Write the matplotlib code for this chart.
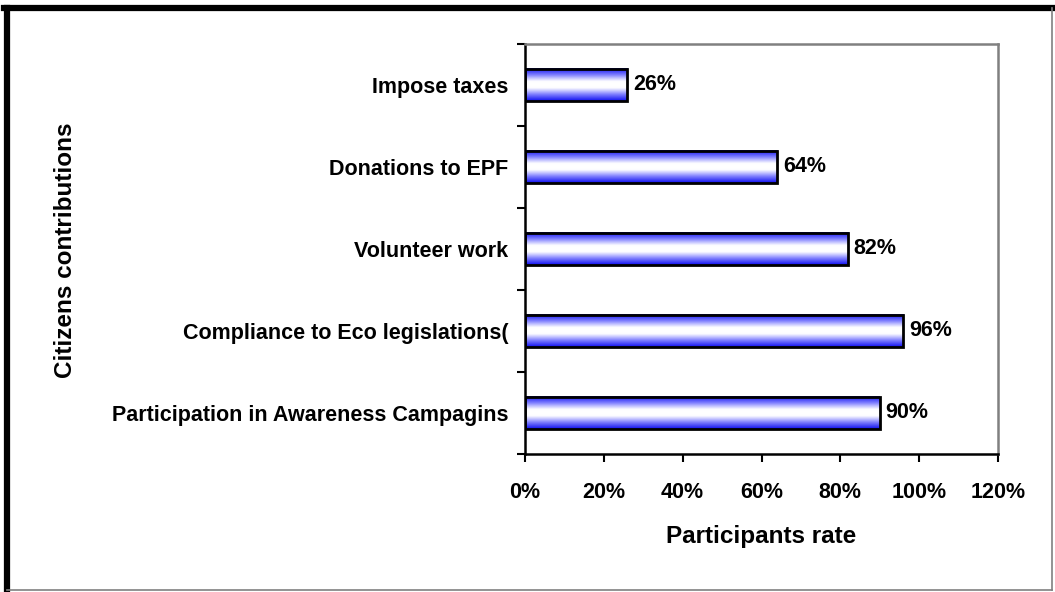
import numpy as np
import matplotlib
matplotlib.use("Agg")
import matplotlib.pyplot as plt
from matplotlib.colors import LinearSegmentedColormap
from matplotlib.patches import Rectangle
from matplotlib.ticker import FixedLocator, PercentFormatter

categories = [
    "Participation in Awareness Campagins",
    "Compliance to Eco legislations(",
    "Volunteer work",
    "Donations to EPF",
    "Impose taxes",
]
rates = [0.90, 0.96, 0.82, 0.64, 0.26]
value_labels = ["90%", "96%", "82%", "64%", "26%"]
x_ticks = [0, 0.2, 0.4, 0.6, 0.8, 1.0, 1.2]

plt.rcParams["font.family"] = ["Liberation Sans", "DejaVu Sans"]
plt.rcParams["font.weight"] = "bold"

fig = plt.figure(figsize=(10.55, 5.92), dpi=100)
ax = fig.add_axes([525 / 1055, 1 - 454 / 592, 473 / 1055, 410 / 592])

# blue -> white -> blue gradient across bar thickness
cmap = LinearSegmentedColormap.from_list(
    "bar", ["#1010f0", "#8080ff", "#ffffff", "#ffffff", "#8080ff", "#1010f0"])
grad = np.linspace(0, 1, 64).reshape(-1, 1)
bar_h = 0.4

for i, (v, lab) in enumerate(zip(rates, value_labels)):
    ax.imshow(grad, cmap=cmap, aspect="auto", interpolation="bicubic",
              extent=(0, v, i - bar_h / 2, i + bar_h / 2), zorder=2)
    ax.add_patch(Rectangle((0, i - bar_h / 2), v, bar_h, fill=False,
                           edgecolor="black", linewidth=2.0, zorder=3))
    ax.text(v + 0.014, i, lab, va="center", ha="left", fontsize=15.5,
            fontweight="bold", zorder=4)

ax.set_xlim(0, 1.2)
ax.set_ylim(-0.5, len(categories) - 0.5)
ax.xaxis.set_major_locator(FixedLocator(x_ticks))
ax.xaxis.set_major_formatter(PercentFormatter(1.0, decimals=0))

ax.set_yticks(range(len(categories)))
ax.set_yticklabels(categories, fontsize=15.5, fontweight="bold")
ax.tick_params(axis="y", which="major", length=0, pad=12)
ax.set_yticks(np.arange(-0.5, len(categories)), minor=True)
ax.tick_params(axis="y", which="minor", length=6, width=1.5, direction="out")
ax.tick_params(axis="x", length=6, width=1.5, direction="out", labelsize=15.5, pad=14)

for s in ("left", "bottom"):
    ax.spines[s].set_color("black")
    ax.spines[s].set_linewidth(1.8)
for s in ("top", "right"):
    ax.spines[s].set_color("#808080")
    ax.spines[s].set_linewidth(1.8)

ax.set_xlabel("Participants rate", fontsize=17.5, fontweight="bold", labelpad=16)
fig.text(65 / 1055, 1 - 250 / 592, "Citizens contributions", rotation=90,
         ha="center", va="center", fontsize=17.5, fontweight="bold")

# Excel-style chart frame: heavy top/left, thin gray right/bottom
frame_kw = dict(transform=fig.transFigure, clip_on=False)
fig.add_artist(plt.Line2D([7 / 1055, 7 / 1055], [1 - 8 / 592, 0], color="black", lw=4.5, **frame_kw))
fig.add_artist(plt.Line2D([4 / 1055, 1], [1 - 8 / 592, 1 - 8 / 592], color="black", lw=4.5, **frame_kw))
fig.add_artist(plt.Line2D([1052 / 1055, 1052 / 1055], [1 - 8 / 592, 2 / 592], color="#808080", lw=1.2, **frame_kw))
fig.add_artist(plt.Line2D([7 / 1055, 1052 / 1055], [2 / 592, 2 / 592], color="#808080", lw=1.2, **frame_kw))

fig.savefig("out.png", dpi=100)
